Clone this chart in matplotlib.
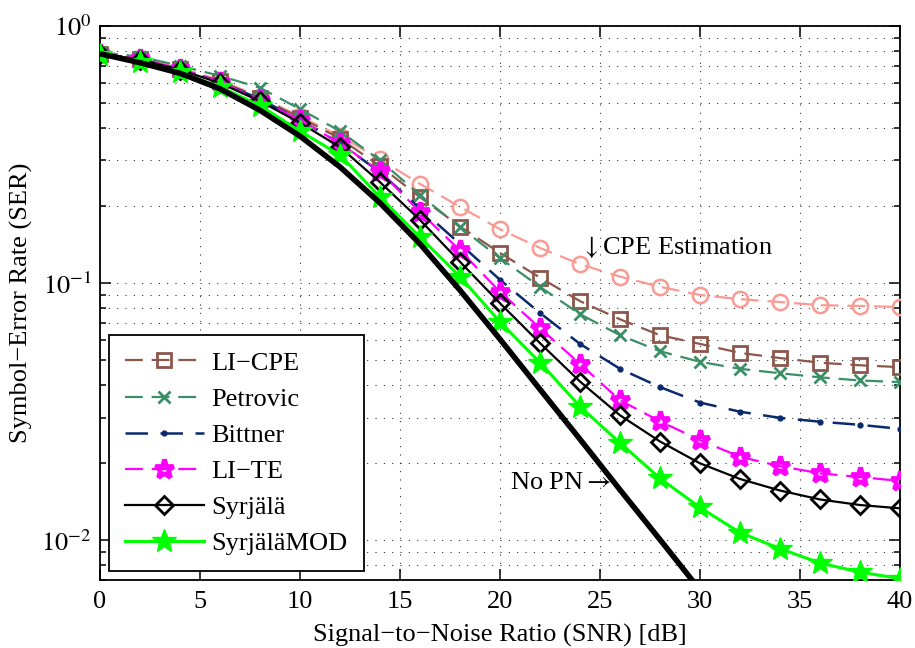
import matplotlib
matplotlib.use("Agg")
import matplotlib.pyplot as plt
import numpy as np

plt.rcParams['font.family'] = ['Liberation Serif', 'DejaVu Serif']
plt.rcParams['mathtext.fontset'] = 'stix'
plt.rcParams['axes.unicode_minus'] = True

# SNR grid (dB) at which each estimator was evaluated
snr = [0, 2, 4, 6, 8, 10, 12, 14, 16, 18, 20, 22, 24, 26, 28, 30, 32, 34, 36, 38, 40]

ser_cpe_est = [0.78, 0.75, 0.686, 0.616, 0.529, 0.445, 0.373, 0.303, 0.243, 0.198, 0.162,
               0.137, 0.1185, 0.106, 0.0967, 0.0899, 0.0866, 0.0844, 0.082, 0.0815, 0.0807]
ser_li_cpe = [0.78, 0.745, 0.68, 0.61, 0.525, 0.44, 0.365, 0.285, 0.216, 0.166, 0.131,
              0.105, 0.0851, 0.0723, 0.0627, 0.058, 0.0535, 0.0511, 0.049, 0.0479, 0.0471]
ser_petrovic = [0.79, 0.76, 0.70, 0.64, 0.575, 0.475, 0.39, 0.30, 0.22, 0.165, 0.125,
                0.0967, 0.0757, 0.0627, 0.0543, 0.0494, 0.0464, 0.0446, 0.043, 0.0418, 0.0412]
ser_bittner = [0.78, 0.745, 0.68, 0.605, 0.52, 0.43, 0.35, 0.27, 0.195, 0.142, 0.103,
               0.0765, 0.058, 0.0464, 0.0394, 0.0343, 0.0316, 0.0299, 0.0289, 0.0281, 0.0271]
ser_li_te = [0.78, 0.745, 0.68, 0.605, 0.515, 0.43, 0.35, 0.272, 0.189, 0.134, 0.0925,
             0.0668, 0.0485, 0.035, 0.029, 0.0245, 0.0211, 0.0194, 0.0182, 0.0176, 0.017]
ser_syrjala = [0.78, 0.74, 0.675, 0.60, 0.51, 0.42, 0.338, 0.247, 0.176, 0.121, 0.0835,
               0.0584, 0.0414, 0.0306, 0.0242, 0.0199, 0.0173, 0.0156, 0.0144, 0.0137, 0.0133]
ser_syrjala_mod = [0.77, 0.725, 0.66, 0.58, 0.49, 0.39, 0.315, 0.216, 0.151, 0.106, 0.0706,
                   0.0491, 0.0331, 0.0239, 0.0174, 0.0134, 0.0107, 0.00927, 0.00815, 0.00751, 0.00709]

# Reference curve without phase noise
snr_nopn = [0, 2, 4, 6, 8, 10, 12, 14, 16, 18, 20, 22, 24, 26, 28, 30]
ser_nopn = [0.78, 0.72, 0.655, 0.57, 0.47, 0.373, 0.283, 0.205, 0.142, 0.0938, 0.0605,
            0.0386, 0.0247, 0.0157, 0.01005, 0.0064]

FS = 19
DASH = (8, 4)

fig = plt.figure(figsize=(9.15, 6.48), dpi=100)
ax = fig.add_axes([100/915, 1-580/648, 800/915, 554/648])

ax.plot(snr, ser_cpe_est, color='#f99a93', lw=1.6, dashes=DASH,
        marker='o', ms=11, mfc='none', mew=1.8, zorder=3)
h1, = ax.plot(snr, ser_li_cpe, color='#8c564b', lw=1.6, dashes=DASH,
              marker='s', ms=10, mfc='none', mew=2, label='LI\u2212CPE', zorder=3)
h2, = ax.plot(snr, ser_petrovic, color='#3a8f66', lw=1.6, dashes=DASH,
              marker='x', ms=9, mew=2, label='Petrovic', zorder=3)
h3, = ax.plot(snr, ser_bittner, color='#0b2a6e', lw=1.8, dashes=(9, 5),
              marker='.', ms=7, label='Bittner', zorder=3)
h4, = ax.plot(snr, ser_li_te, color='#ff00ff', lw=1.6, dashes=DASH,
              marker='*', ms=14, mfc='none', mew=3.4, label='LI\u2212TE', zorder=3)
h5, = ax.plot(snr, ser_syrjala, color='black', lw=1.6,
              marker='D', ms=9.5, mfc='none', mew=2, label='Syrjälä', zorder=4)
h6, = ax.plot(snr, ser_syrjala_mod, color='#00ff00', lw=2.2,
              marker='*', ms=18, label='SyrjäläMOD', zorder=4)
ax.plot(snr_nopn, ser_nopn, color='black', lw=4.0, zorder=5, solid_capstyle='butt')

ax.set_yscale('log')
ax.set_xlim(0, 40)
ax.set_ylim(0.007, 1)
ax.set_xticks([0, 5, 10, 15, 20, 25, 30, 35, 40])
ax.set_yticks([1e-2, 1e-1, 1])
ax.set_yticklabels([r'$10^{-2}$', r'$10^{-1}$', r'$10^{0}$'])
ax.yaxis.set_minor_locator(matplotlib.ticker.LogLocator(base=10, subs=np.arange(2, 10)))
ax.yaxis.set_minor_formatter(matplotlib.ticker.NullFormatter())

grid_style = dict(color='#222222', lw=0.75, linestyle=(0, (1, 7)))
ax.grid(True, which='major', axis='both', **grid_style)
ax.grid(True, which='minor', axis='y', **grid_style)
ax.set_axisbelow(True)

ax.tick_params(which='both', direction='in', top=True, right=True, labelsize=FS)
ax.tick_params(which='major', length=8, width=1.1)
ax.tick_params(which='minor', length=4.5, width=1.1)
ax.tick_params(axis='x', pad=8)
ax.tick_params(axis='y', pad=6)
for s in ax.spines.values():
    s.set_linewidth(1.3)

ax.set_xlabel('Signal\u2212to\u2212Noise Ratio (SNR) [dB]', fontsize=FS, labelpad=8)
ax.set_ylabel('Symbol\u2212Error Rate (SER)', fontsize=FS, labelpad=6)

ax.text(24.05, 0.138, r'$\downarrow$CPE Estimation', fontsize=FS, ha='left', va='center')
ax.text(20.5, 0.0167, r'No PN$\rightarrow$', fontsize=FS, ha='left', va='center')

leg = ax.legend(handles=[h1, h2, h3, h4, h5, h6], loc='lower left',
                bbox_to_anchor=(0.011, 0.016), borderaxespad=0, fontsize=FS,
                handlelength=3.0, handletextpad=0.3, labelspacing=0.48,
                borderpad=0.6, numpoints=1, fancybox=False, framealpha=1,
                edgecolor='black')
leg.get_frame().set_linewidth(1.3)

fig.savefig('out.png', dpi=100)
